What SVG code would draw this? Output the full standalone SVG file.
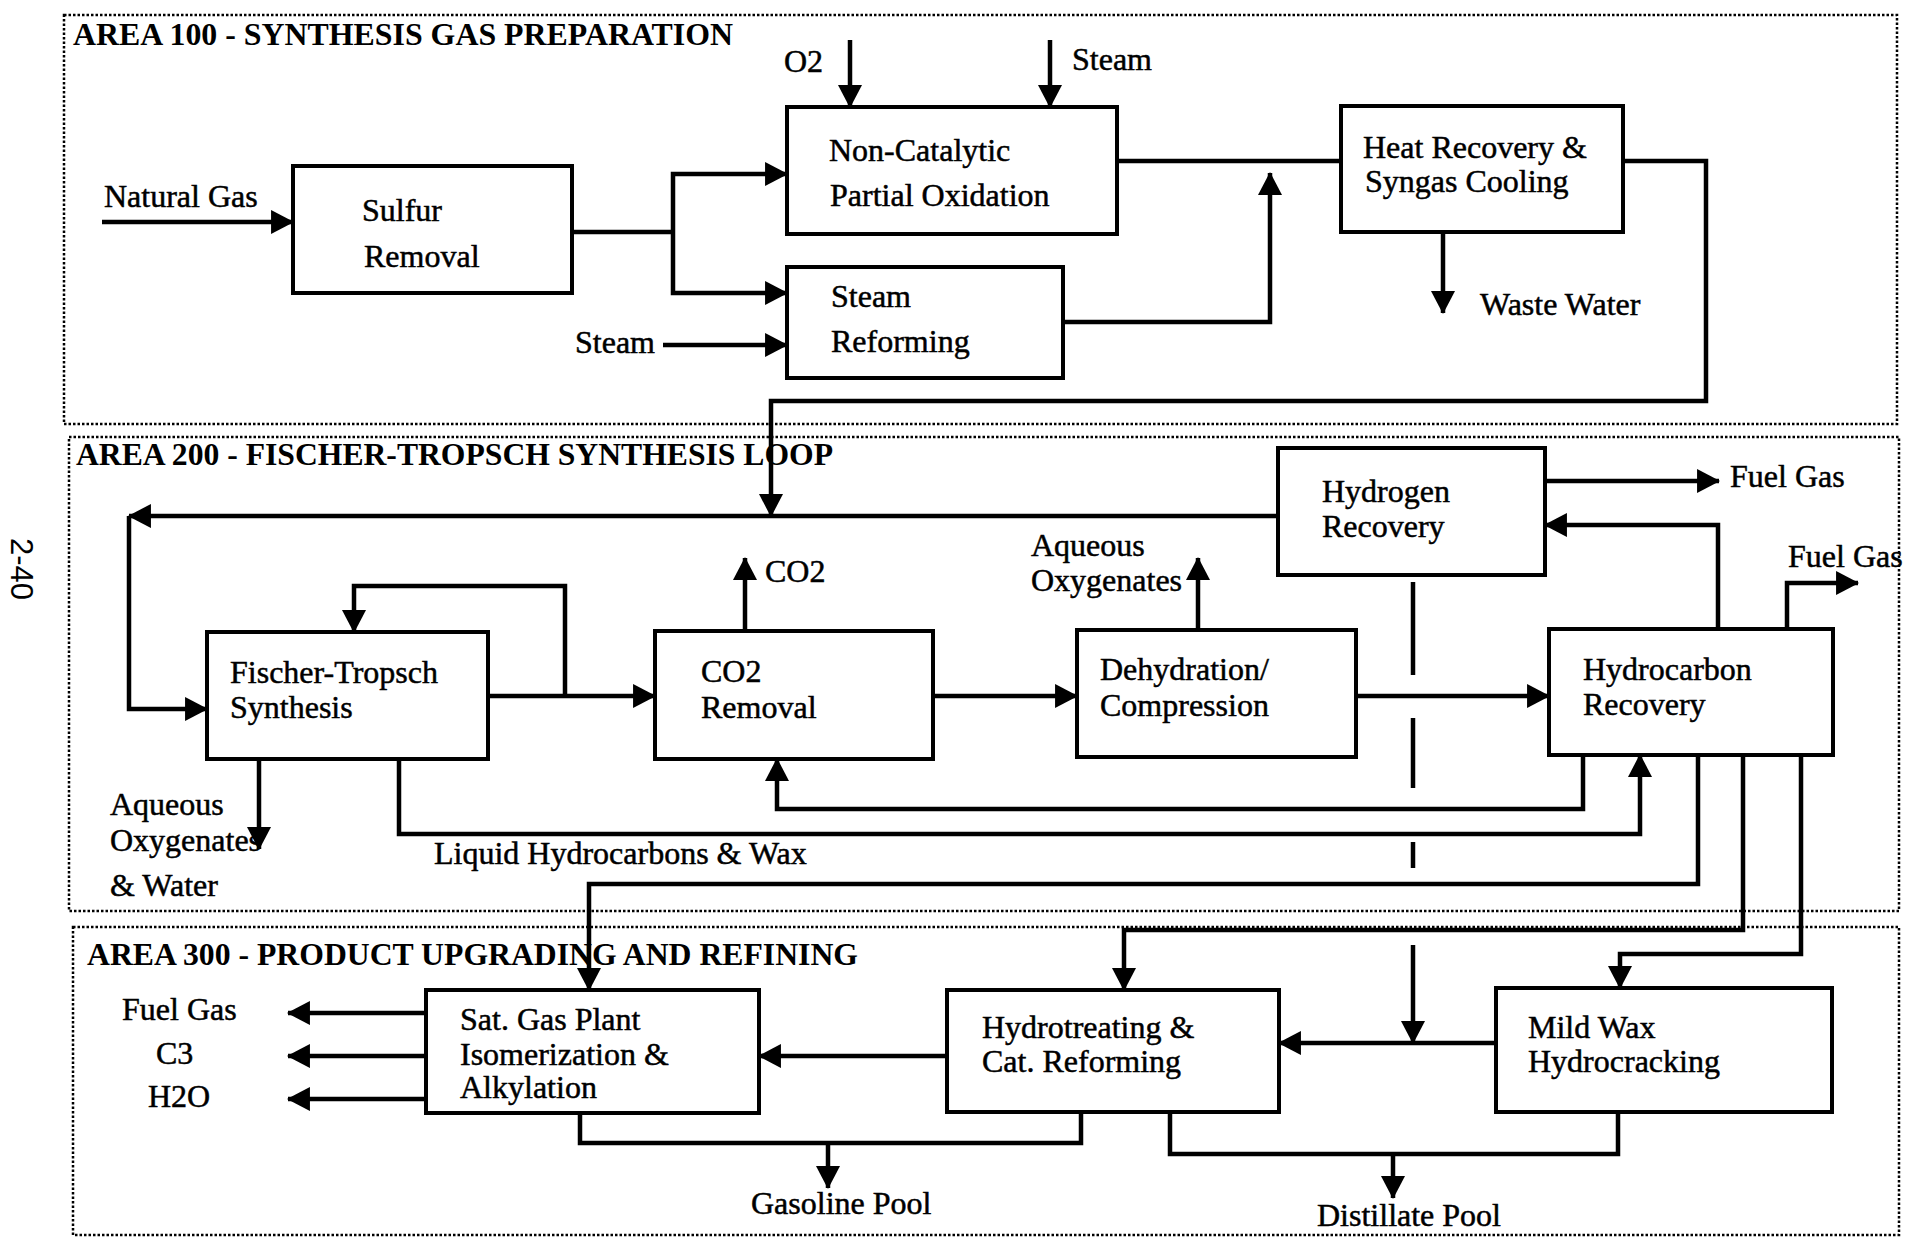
<svg xmlns="http://www.w3.org/2000/svg" width="1905" height="1239" viewBox="0 0 1905 1239">
<defs>
<marker id="ah" markerUnits="userSpaceOnUse" markerWidth="24" markerHeight="24" viewBox="0 0 22 23" refX="21" refY="11.5" orient="auto">
<path d="M0,0 L22,11.5 L0,23 z" fill="#000"/>
</marker>
<style>
.area{fill:none;stroke:#000;stroke-width:2.5;stroke-dasharray:2.5 2}
.box{fill:#fff;stroke:#000;stroke-width:4}
.c{fill:none;stroke:#000;stroke-width:4.5;stroke-linejoin:miter}
.a{marker-end:url(#ah)}
.t{font-family:"Liberation Serif","Times New Roman",serif;font-size:32px;fill:#000;stroke:#000;stroke-width:0.5}
.title{font-family:"Liberation Serif","Times New Roman",serif;font-size:32px;font-weight:bold;fill:#000}
.pg{font-family:"Liberation Sans",Arial,sans-serif;font-size:31px;fill:#000}
</style>
</defs>
<rect width="1905" height="1239" fill="#fff"/>

<g id="areas">
<rect class="area" x="64" y="15" width="1833" height="409"/>
<rect class="area" x="69" y="437" width="1830" height="474"/>
<rect class="area" x="73" y="927" width="1826" height="308"/>
<text class="title" x="73" y="45" textLength="660" lengthAdjust="spacingAndGlyphs">AREA 100 - SYNTHESIS GAS PREPARATION</text>
<text class="title" x="76" y="465" textLength="757" lengthAdjust="spacingAndGlyphs">AREA 200 - FISCHER-TROPSCH SYNTHESIS LOOP</text>
<text class="title" x="87" y="965" textLength="771" lengthAdjust="spacingAndGlyphs">AREA 300 - PRODUCT UPGRADING AND REFINING</text>
<text class="pg" transform="translate(11,569) rotate(90)" text-anchor="middle" textLength="62" lengthAdjust="spacingAndGlyphs">2-40</text>
</g>

<g id="connectors">
<path class="c a" d="M102,222 H293"/>
<path class="c" d="M572,232 H673"/>
<path class="c a" d="M673,232 V174 H787"/>
<path class="c a" d="M673,232 V293 H787"/>
<path class="c a" d="M663,345 H787"/>
<path class="c a" d="M850,40 V107"/>
<path class="c a" d="M1050,40 V107"/>
<path class="c" d="M1117,161 H1341"/>
<path class="c a" d="M1063,322 H1270 V173"/>
<path class="c a" d="M1443,232 V313"/>
<path class="c a" d="M1623,161 H1706 V401 H771 V516"/>

<path class="c a" d="M1278,516 H129"/>
<path class="c a" d="M129,516 V709 H207"/>
<path class="c a" d="M488,696 H655"/>
<path class="c a" d="M565,696 V586 H354 V632"/>
<path class="c a" d="M259,759 V849"/>
<path class="c a" d="M745,631 V558"/>
<path class="c a" d="M933,696 H1077"/>
<path class="c a" d="M1198,630 V558"/>
<path class="c a" d="M1356,696 H1549"/>
<path class="c a" d="M1545,481 H1719"/>
<path class="c a" d="M1718,629 V525 H1545"/>
<path class="c a" d="M1787,629 V583 H1858"/>
<path class="c a" d="M1583,755 V809 H777 V759"/>
<path class="c a" d="M399,759 V834 H1640 V755"/>
<path class="c a" d="M1698,755 V884 H589 V990"/>
<path class="c a" d="M1743,755 V930 H1124 V990"/>
<path class="c a" d="M1801,755 V954 H1620 V988"/>
<path class="c" d="M1413,582 V675 M1413,718 V788 M1413,842 V868"/>
<path class="c a" d="M1413,945 V1043"/>

<path class="c a" d="M426,1013 H288"/>
<path class="c a" d="M426,1056 H288"/>
<path class="c a" d="M426,1099 H288"/>
<path class="c a" d="M947,1056 H759"/>
<path class="c a" d="M1496,1043 H1279"/>
<path class="c" d="M580,1113 V1143 H1081 V1112"/>
<path class="c a" d="M828,1143 V1188"/>
<path class="c" d="M1170,1112 V1154 H1618 V1112"/>
<path class="c a" d="M1393,1154 V1198"/>
</g>

<g id="labels">
<text class="t" x="104" y="207">Natural Gas</text>
<text class="t" x="784" y="72">O2</text>
<text class="t" x="1072" y="70">Steam</text>
<text class="t" x="575" y="353">Steam</text>
<text class="t" x="1480" y="315">Waste Water</text>
<text class="t" x="765" y="582">CO2</text>
<text class="t" x="1031" y="556">Aqueous</text>
<text class="t" x="1031" y="591">Oxygenates</text>
<text class="t" x="1730" y="487">Fuel Gas</text>
<text class="t" x="1788" y="567">Fuel Gas</text>
<text class="t" x="110" y="815">Aqueous</text>
<text class="t" x="110" y="851">Oxygenates</text>
<text class="t" x="110" y="896">&amp; Water</text>
<text class="t" x="434" y="864">Liquid Hydrocarbons &amp; Wax</text>
<text class="t" x="122" y="1020">Fuel Gas</text>
<text class="t" x="156" y="1064">C3</text>
<text class="t" x="148" y="1107">H2O</text>
<text class="t" x="751" y="1214">Gasoline Pool</text>
<text class="t" x="1317" y="1226">Distillate Pool</text>
</g>

<g id="sulfur-removal">
<rect class="box" x="293" y="166" width="279" height="127"/>
<text class="t" x="362" y="221">Sulfur</text>
<text class="t" x="364" y="267">Removal</text>
</g>
<g id="partial-oxidation">
<rect class="box" x="787" y="107" width="330" height="127"/>
<text class="t" x="829" y="161">Non-Catalytic</text>
<text class="t" x="830" y="206">Partial Oxidation</text>
</g>
<g id="steam-reforming">
<rect class="box" x="787" y="267" width="276" height="111"/>
<text class="t" x="831" y="307">Steam</text>
<text class="t" x="831" y="352">Reforming</text>
</g>
<g id="heat-recovery">
<rect class="box" x="1341" y="106" width="282" height="126"/>
<text class="t" x="1363" y="158">Heat Recovery &amp;</text>
<text class="t" x="1365" y="192">Syngas Cooling</text>
</g>
<g id="fischer-tropsch">
<rect class="box" x="207" y="632" width="281" height="127"/>
<text class="t" x="230" y="683">Fischer-Tropsch</text>
<text class="t" x="230" y="718">Synthesis</text>
</g>
<g id="co2-removal">
<rect class="box" x="655" y="631" width="278" height="128"/>
<text class="t" x="701" y="682">CO2</text>
<text class="t" x="701" y="718">Removal</text>
</g>
<g id="dehydration">
<rect class="box" x="1077" y="630" width="279" height="127"/>
<text class="t" x="1100" y="680">Dehydration/</text>
<text class="t" x="1100" y="716">Compression</text>
</g>
<g id="hydrogen-recovery">
<rect class="box" x="1278" y="448" width="267" height="127"/>
<text class="t" x="1322" y="502">Hydrogen</text>
<text class="t" x="1322" y="537">Recovery</text>
</g>
<g id="hydrocarbon-recovery">
<rect class="box" x="1549" y="629" width="284" height="126"/>
<text class="t" x="1583" y="680">Hydrocarbon</text>
<text class="t" x="1583" y="715">Recovery</text>
</g>
<g id="sat-gas-plant">
<rect class="box" x="426" y="990" width="333" height="123"/>
<text class="t" x="460" y="1030">Sat. Gas Plant</text>
<text class="t" x="460" y="1065">Isomerization &amp;</text>
<text class="t" x="460" y="1098">Alkylation</text>
</g>
<g id="hydrotreating">
<rect class="box" x="947" y="990" width="332" height="122"/>
<text class="t" x="982" y="1038">Hydrotreating &amp;</text>
<text class="t" x="982" y="1072">Cat. Reforming</text>
</g>
<g id="mild-wax-hydrocracking">
<rect class="box" x="1496" y="988" width="336" height="124"/>
<text class="t" x="1528" y="1038">Mild Wax</text>
<text class="t" x="1528" y="1072">Hydrocracking</text>
</g>
</svg>
